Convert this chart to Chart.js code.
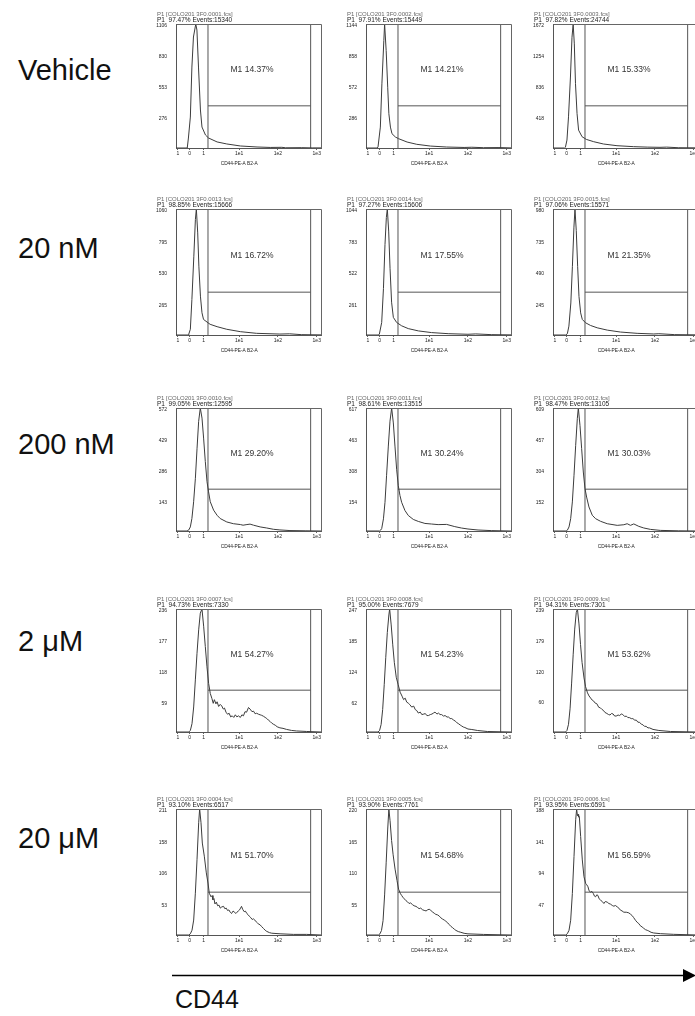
<!DOCTYPE html>
<html>
<head>
<meta charset="utf-8">
<title>CD44 expression by dose</title>
<script src="https://cdn.jsdelivr.net/npm/chart.js@4.4.1/dist/chart.umd.min.js"></script>
<style>
  html, body { margin:0; padding:0; background:#fff; }
  body { width:695px; height:1016px; overflow:hidden; position:relative; font-family:"Liberation Sans", Arial, sans-serif; }
  .dose { position:absolute; left:18px; font-size:29px; line-height:32px; color:#111; white-space:nowrap; }
  canvas { position:absolute; }
  #arrow { position:absolute; left:0; top:0; }
  #axisName { position:absolute; left:175px; top:985px; font-size:25px; line-height:28px; color:#111; }
</style>
</head>
<body>
<svg id="arrow" width="695" height="1016">
  <line x1="172" y1="975.5" x2="684" y2="975.5" stroke="#000" stroke-width="1.5"/>
  <polygon points="683,969 696,975.5 683,982" fill="#000"/>
</svg>
<div id="axisName">CD44</div>
<script>
// ---- axis definitions (x is in display decades of the biexponential PE channel) ----
const xTickPos    = [-0.58, -0.28, 0.08, 1, 2, 3];
const xTickLabels = ['1', '0', '1', '1e1', '1e2', '1e3'];
const gateM1      = [0.195, 2.843];          // M1 marker bounds
const doses       = ['Vehicle', '20 nM', '200 nM', '2 μM', '20 μM'];

// y-axis tick values per panel [row][col]; last value is the axis maximum
const yTicks = [
  [[276, 553, 830, 1106], [286, 572, 858, 1144], [418, 836, 1254, 1672]],
  [[265, 530, 795, 1060], [261, 522, 783, 1044], [245, 490, 735, 980]],
  [[143, 286, 429, 572],  [154, 308, 463, 617],  [152, 304, 457, 609]],
  [[59, 118, 177, 236],   [62, 124, 185, 247],   [60, 120, 179, 239]],
  [[53, 106, 158, 211],   [55, 110, 165, 220],   [47, 94, 141, 188]]
];
const p1Percent = [
  ['97.47', '97.91', '97.82'],
  ['98.85', '97.27', '97.06'],
  ['99.05', '98.61', '98.47'],
  ['94.73', '95.00', '94.31'],
  ['93.10', '93.90', '93.95']
];
const eventCounts = [
  [15340, 15449, 24744],
  [15666, 15606, 15571],
  [12595, 13515, 13105],
  [7330, 7679, 7301],
  [6517, 7761, 6591]
];
const m1Percent = [
  ['14.37', '14.21', '15.33'],
  ['16.72', '17.55', '21.35'],
  ['29.20', '30.24', '30.03'],
  ['54.27', '54.23', '53.62'],
  ['51.70', '54.68', '56.59']
];
const dataFiles = [
  ['0001', '0002', '0003'],
  ['0013', '0014', '0015'],
  ['0010', '0011', '0012'],
  ['0007', '0008', '0009'],
  ['0004', '0005', '0006']
];

// ---- histograms: [decade position, events] ----
const vehicleA = [[-0.63,0],[-0.34,0],[-0.31,89],[-0.26,276],[-0.22,722],[-0.18,990],[-0.12,1106],[-0.09,1052],[-0.05,722],[0.00,339],[0.04,187],[0.13,116],[0.21,89],[0.43,54],[0.68,36],[1.03,18],[1.46,9],[1.8,5],[2.1,6],[2.2,2],[2.6,3],[2.9,1],[3.11,1]];
const vehicleB = [[-0.63,0],[-0.34,0],[-0.32,10],[-0.26,193],[-0.22,592],[-0.17,991],[-0.15,1144],[-0.11,899],[-0.07,561],[-0.04,316],[0.00,193],[0.04,132],[0.13,101],[0.21,86],[0.43,55],[0.68,34],[1.03,18],[1.45,9],[1.9,5],[2.1,7],[2.4,3],[2.8,4],[3.11,1]];
const vehicleC = [[-0.63,0],[-0.33,0],[-0.31,10],[-0.27,107],[-0.23,420],[-0.18,957],[-0.14,1493],[-0.11,1672],[-0.08,1404],[-0.05,867],[-0.01,465],[0.03,241],[0.12,152],[0.23,116],[0.42,85],[0.67,54],[1.02,31],[1.45,18],[1.8,12],[2.13,9],[2.3,12],[2.6,4],[3.11,2]];

const nm20A = [[-0.63,0],[-0.32,0],[-0.30,8],[-0.26,48],[-0.22,299],[-0.17,663],[-0.13,971],[-0.105,1060],[-0.07,859],[-0.04,579],[0.00,327],[0.04,187],[0.08,131],[0.17,109],[0.25,90],[0.43,70],[0.68,48],[1.03,28],[1.45,14],[2.05,8],[2.3,10],[2.6,3],[3.11,1]];
const nm20B = [[-0.63,0],[-0.31,0],[-0.285,8],[-0.225,104],[-0.18,384],[-0.14,749],[-0.105,974],[-0.08,1044],[-0.045,861],[-0.01,553],[0.03,272],[0.075,146],[0.16,104],[0.29,76],[0.46,53],[0.72,34],[1.06,20],[1.49,11],[2.0,6],[2.2,9],[2.6,3],[3.11,1]];
const nm20C = [[-0.63,0],[-0.30,0],[-0.26,10],[-0.22,69],[-0.17,249],[-0.13,531],[-0.09,839],[-0.063,980],[-0.03,813],[0.006,531],[0.04,300],[0.083,172],[0.126,121],[0.21,95],[0.34,74],[0.51,56],[0.77,38],[1.11,23],[1.54,13],[1.97,8],[2.1,10],[2.5,3],[3.11,1]];

const nm200A = [[-0.63,0],[-0.345,0],[-0.30,5],[-0.26,19],[-0.22,58],[-0.175,136],[-0.13,245],[-0.087,385],[-0.046,510],[-0.003,572],[0.041,525],[0.082,432],[0.126,323],[0.17,229],[0.21,182],[0.254,136],[0.34,97],[0.43,73],[0.51,58],[0.68,42],[0.85,34],[1.03,30],[1.1,27],[1.2,30],[1.28,32],[1.37,27],[1.54,19],[1.71,14],[1.88,8],[2.05,5],[2.31,2],[2.7,1],[3.11,0]];
const nm200B = [[-0.63,0],[-0.28,0],[-0.25,5],[-0.225,12],[-0.18,61],[-0.14,144],[-0.10,277],[-0.054,426],[-0.011,551],[0.032,617],[0.075,542],[0.117,426],[0.16,310],[0.203,227],[0.246,178],[0.289,144],[0.374,103],[0.46,78],[0.59,58],[0.72,48],[0.89,38],[1.06,35],[1.23,32],[1.45,33],[1.66,22],[1.83,15],[2.0,10],[2.26,5],[2.6,2],[3.11,0]];
const nm200C = [[-0.63,0],[-0.29,0],[-0.26,4],[-0.217,20],[-0.174,61],[-0.131,144],[-0.088,276],[-0.045,424],[-0.003,556],[0.023,609],[0.066,523],[0.109,408],[0.152,292],[0.195,210],[0.237,168],[0.297,119],[0.383,78],[0.469,61],[0.597,48],[0.769,36],[1.026,28],[1.197,31],[1.283,36],[1.368,28],[1.454,35],[1.583,23],[1.711,15],[1.883,8],[2.14,3],[2.6,1],[3.11,0]];

const um2A = [[-0.63,0],[-0.30,0],[-0.26,3],[-0.217,16],[-0.174,48],[-0.131,100],[-0.088,151],[-0.045,196],[-0.003,228],[0.04,236],[0.083,203],[0.126,164],[0.169,125],[0.212,93],[0.254,74],[0.297,64],[0.33,55],[0.36,62],[0.40,54],[0.43,58],[0.47,49],[0.51,53],[0.55,50],[0.59,44],[0.62,46],[0.66,38],[0.70,34],[0.74,36],[0.78,29],[0.82,31],[0.86,28],[0.90,33],[0.94,29],[0.98,31],[1.03,28],[1.07,33],[1.11,31],[1.15,39],[1.19,38],[1.24,47],[1.28,44],[1.33,39],[1.37,40],[1.41,35],[1.45,36],[1.50,34],[1.54,33],[1.58,32],[1.63,30],[1.67,28],[1.71,26],[1.75,23],[1.80,20],[1.84,17],[1.88,15],[1.93,13],[1.98,10],[2.05,8],[2.13,7],[2.22,5],[2.35,3],[2.48,2],[2.74,1],[3.11,0]];
const um2B = [[-0.63,0],[-0.32,0],[-0.28,3],[-0.24,15],[-0.20,45],[-0.16,95],[-0.12,150],[-0.08,200],[-0.04,235],[-0.02,247],[0.02,215],[0.06,175],[0.10,140],[0.15,110],[0.20,95],[0.25,80],[0.30,72],[0.34,65],[0.38,68],[0.42,60],[0.46,58],[0.50,55],[0.55,50],[0.60,52],[0.64,45],[0.68,43],[0.72,38],[0.77,40],[0.81,35],[0.86,36],[0.90,37],[0.94,33],[0.98,33],[1.03,35],[1.07,36],[1.11,38],[1.15,40],[1.20,36],[1.24,38],[1.28,35],[1.32,35],[1.37,32],[1.41,33],[1.46,30],[1.50,30],[1.54,27],[1.58,27],[1.63,24],[1.67,22],[1.71,19],[1.75,17],[1.80,14],[1.84,12],[1.88,10],[1.92,9],[2.0,6],[2.1,5],[2.25,3],[2.5,1],[3.11,0]];
const um2C = [[-0.63,0],[-0.31,0],[-0.27,3],[-0.23,15],[-0.19,45],[-0.15,95],[-0.11,150],[-0.07,200],[-0.03,232],[0.00,239],[0.04,210],[0.08,170],[0.12,135],[0.17,105],[0.21,88],[0.26,76],[0.30,70],[0.34,66],[0.38,62],[0.42,60],[0.46,56],[0.50,55],[0.55,48],[0.59,47],[0.63,44],[0.67,42],[0.71,38],[0.76,36],[0.80,34],[0.84,33],[0.88,36],[0.92,35],[0.96,31],[1.00,31],[1.05,33],[1.09,32],[1.13,35],[1.17,34],[1.22,30],[1.26,31],[1.30,28],[1.34,28],[1.39,26],[1.43,26],[1.48,23],[1.52,23],[1.56,19],[1.60,19],[1.65,15],[1.69,14],[1.73,11],[1.77,11],[1.82,8],[1.86,8],[1.95,5],[2.1,3],[2.4,1],[3.11,0]];

const um20A = [[-0.63,0],[-0.30,0],[-0.26,2],[-0.217,8],[-0.174,25],[-0.131,70],[-0.088,126],[-0.045,188],[-0.02,211],[0.015,188],[0.049,154],[0.10,132],[0.152,104],[0.195,87],[0.229,70],[0.272,64],[0.30,66],[0.323,59],[0.35,61],[0.374,52],[0.41,55],[0.443,49],[0.48,50],[0.512,45],[0.55,47],[0.597,48],[0.63,44],[0.666,45],[0.70,41],[0.734,42],[0.77,38],[0.803,36],[0.84,40],[0.871,39],[0.91,36],[0.94,38],[0.975,40],[1.009,42],[1.035,45],[1.06,48],[1.09,43],[1.129,39],[1.16,40],[1.197,36],[1.23,34],[1.266,31],[1.30,29],[1.334,26],[1.37,27],[1.403,25],[1.44,22],[1.471,20],[1.51,18],[1.54,17],[1.58,14],[1.626,11],[1.67,8],[1.711,6],[1.78,4],[1.84,3],[2.054,2],[2.397,1],[2.74,1],[3.11,0]];
const um20B = [[-0.63,0],[-0.31,0],[-0.27,2],[-0.23,8],[-0.19,25],[-0.15,70],[-0.11,126],[-0.07,185],[-0.04,220],[-0.01,200],[0.03,165],[0.07,140],[0.12,115],[0.17,95],[0.21,80],[0.26,72],[0.29,69],[0.32,66],[0.36,63],[0.40,60],[0.44,58],[0.48,55],[0.52,56],[0.57,53],[0.61,51],[0.66,50],[0.70,48],[0.74,46],[0.78,47],[0.83,44],[0.87,43],[0.92,42],[0.96,44],[1.00,45],[1.04,43],[1.09,40],[1.13,38],[1.17,36],[1.22,35],[1.26,33],[1.30,30],[1.34,28],[1.39,26],[1.43,24],[1.48,21],[1.52,18],[1.56,15],[1.60,13],[1.65,10],[1.69,8],[1.75,6],[1.8,5],[1.9,3],[2.0,2],[2.4,1],[3.11,0]];
const um20C = [[-0.63,0],[-0.30,0],[-0.26,2],[-0.217,7],[-0.174,22],[-0.131,62],[-0.088,117],[-0.045,172],[-0.02,188],[0.00,178],[0.015,180],[0.03,176],[0.049,177],[0.083,147],[0.126,112],[0.169,87],[0.212,77],[0.24,75],[0.272,72],[0.30,66],[0.34,64],[0.375,65],[0.409,62],[0.44,58],[0.469,57],[0.50,60],[0.529,59],[0.56,54],[0.597,52],[0.64,50],[0.683,47],[0.72,50],[0.769,49],[0.81,47],[0.854,46],[0.90,44],[0.94,43],[0.98,44],[1.026,42],[1.07,40],[1.111,37],[1.15,36],[1.197,34],[1.26,34],[1.326,33],[1.37,31],[1.411,29],[1.45,26],[1.497,22],[1.54,19],[1.583,17],[1.62,14],[1.668,12],[1.71,10],[1.754,8],[1.80,7],[1.84,6],[1.9,4],[1.968,3],[2.14,2],[2.482,1],[3.11,0]];

const histograms = [
  [vehicleA, vehicleB, vehicleC],
  [nm20A, nm20B, nm20C],
  [nm200A, nm200B, nm200C],
  [um2A, um2B, um2C],
  [um20A, um20B, um20C]
];

// ---- layout ----
const X_MIN = -0.63, X_MAX = 3.11;
const COL_LEFT = [176, 366, 553];
const ROW_TOP  = [24, 209, 408, 609, 809];
const ROW_H    = [124, 126, 123, 123, 126];
const PLOT_W   = 145;
const PAD_L = 40, PAD_T = 26, PAD_R = 6, PAD_B = 24;
const DOSE_MID = [70, 248, 444, 641, 838];
const GATE_LEVEL = 0.34;      // height of the M1 bar as a share of the y range
const M1_LABEL_X = 1.33;      // decade position of the M1 caption
const M1_LABEL_LEVEL = 0.63;
const FONT = '"Liberation Sans", Arial, sans-serif';
const INK = '#3c3c3c';

doses.forEach((d, r) => {
  const el = document.createElement('div');
  el.className = 'dose';
  el.style.top = (DOSE_MID[r] - 16) + 'px';
  el.textContent = d;
  document.body.appendChild(el);
});

// plot frame (top and right edges) plus panel captions
const panelDecor = {
  id: 'panelDecor',
  afterDraw(chart, args, o) {
    const { ctx, chartArea: a, scales: { x, y } } = chart;
    ctx.save();
    ctx.strokeStyle = '#666';
    ctx.lineWidth = 1;
    ctx.beginPath();
    ctx.moveTo(Math.round(a.left) + 0.5, Math.round(a.top) + 0.5);
    ctx.lineTo(Math.round(a.right) + 0.5, Math.round(a.top) + 0.5);
    ctx.lineTo(Math.round(a.right) + 0.5, Math.round(a.bottom) + 0.5);
    ctx.stroke();

    ctx.textBaseline = 'middle';
    ctx.textAlign = 'left';
    ctx.fillStyle = '#666';
    ctx.font = '6px ' + FONT;
    ctx.fillText(o.head1, a.left - 19, a.top - 10);
    ctx.fillStyle = '#222';
    ctx.font = '6.5px ' + FONT;
    ctx.fillText(o.head2, a.left - 19, a.top - 4);

    ctx.textAlign = 'center';
    ctx.fillStyle = '#333';
    ctx.font = '8.5px ' + FONT;
    ctx.fillText(o.m1, x.getPixelForValue(M1_LABEL_X), y.getPixelForValue(y.max * M1_LABEL_LEVEL));

    ctx.fillStyle = '#222';
    ctx.font = '4.8px ' + FONT;
    ctx.fillText('CD44-PE-A B2-A', x.getPixelForValue(1.0), a.bottom + 16);
    ctx.restore();
  }
};

for (let r = 0; r < 5; r++) {
  for (let c = 0; c < 3; c++) {
    const ticks = yTicks[r][c];
    const yMax = ticks[ticks.length - 1];
    const w = PAD_L + PLOT_W + PAD_R;
    const h = PAD_T + ROW_H[r] + PAD_B;
    const cv = document.createElement('canvas');
    cv.width = w; cv.height = h;
    cv.style.left = (COL_LEFT[c] - PAD_L) + 'px';
    cv.style.top = (ROW_TOP[r] - PAD_T) + 'px';
    cv.style.width = w + 'px'; cv.style.height = h + 'px';
    document.body.appendChild(cv);

    const gy = yMax * GATE_LEVEL;
    const gatePath = [
      { x: gateM1[0], y: 0 }, { x: gateM1[0], y: yMax }, { x: gateM1[0], y: null },
      { x: gateM1[1], y: 0 }, { x: gateM1[1], y: yMax }, { x: gateM1[1], y: null },
      { x: gateM1[0], y: gy }, { x: gateM1[1], y: gy }
    ];

    new Chart(cv, {
      type: 'line',
      data: {
        datasets: [
          { data: histograms[r][c].map(([x, y]) => ({ x, y })), borderColor: INK, borderWidth: 1, pointRadius: 0, tension: 0, fill: false },
          { data: gatePath, borderColor: '#555', borderWidth: 1, pointRadius: 0, spanGaps: false, fill: false }
        ]
      },
      options: {
        responsive: false,
        animation: false,
        devicePixelRatio: 1,
        events: [],
        layout: { padding: { left: 0, top: PAD_T, right: PAD_R, bottom: 0 } },
        plugins: {
          legend: { display: false },
          tooltip: { enabled: false },
          panelDecor: {
            head1: 'P1 [COLO201 3F0.' + dataFiles[r][c] + '.fcs]',
            head2: 'P1  ' + p1Percent[r][c] + '% Events:' + eventCounts[r][c],
            m1: 'M1 ' + m1Percent[r][c] + '%'
          }
        },
        scales: {
          x: {
            type: 'linear', min: X_MIN, max: X_MAX,
            afterFit(s) { s.height = PAD_B; },
            afterBuildTicks(s) { s.ticks = xTickPos.map(v => ({ value: v })); },
            ticks: { callback: (v, i) => xTickLabels[i], autoSkip: false, maxRotation: 0, minRotation: 0, padding: 1, color: '#222', font: { size: 5, family: FONT } },
            grid: { display: true, drawOnChartArea: false, drawTicks: true, tickLength: 2, color: '#666' },
            border: { display: true, color: '#555', width: 1 }
          },
          y: {
            type: 'linear', min: 0, max: yMax,
            afterFit(s) { s.width = PAD_L; },
            afterBuildTicks(s) { s.ticks = [0, ...ticks].map(v => ({ value: v })); },
            ticks: { callback: v => (v === 0 ? '' : String(v)), autoSkip: false, padding: 9, labelOffset: 2, color: '#222', font: { size: 5, family: FONT } },
            grid: { display: false, drawTicks: false },
            border: { display: true, color: '#555', width: 1 }
          }
        }
      },
      plugins: [panelDecor]
    });
  }
}
</script>
</body>
</html>
